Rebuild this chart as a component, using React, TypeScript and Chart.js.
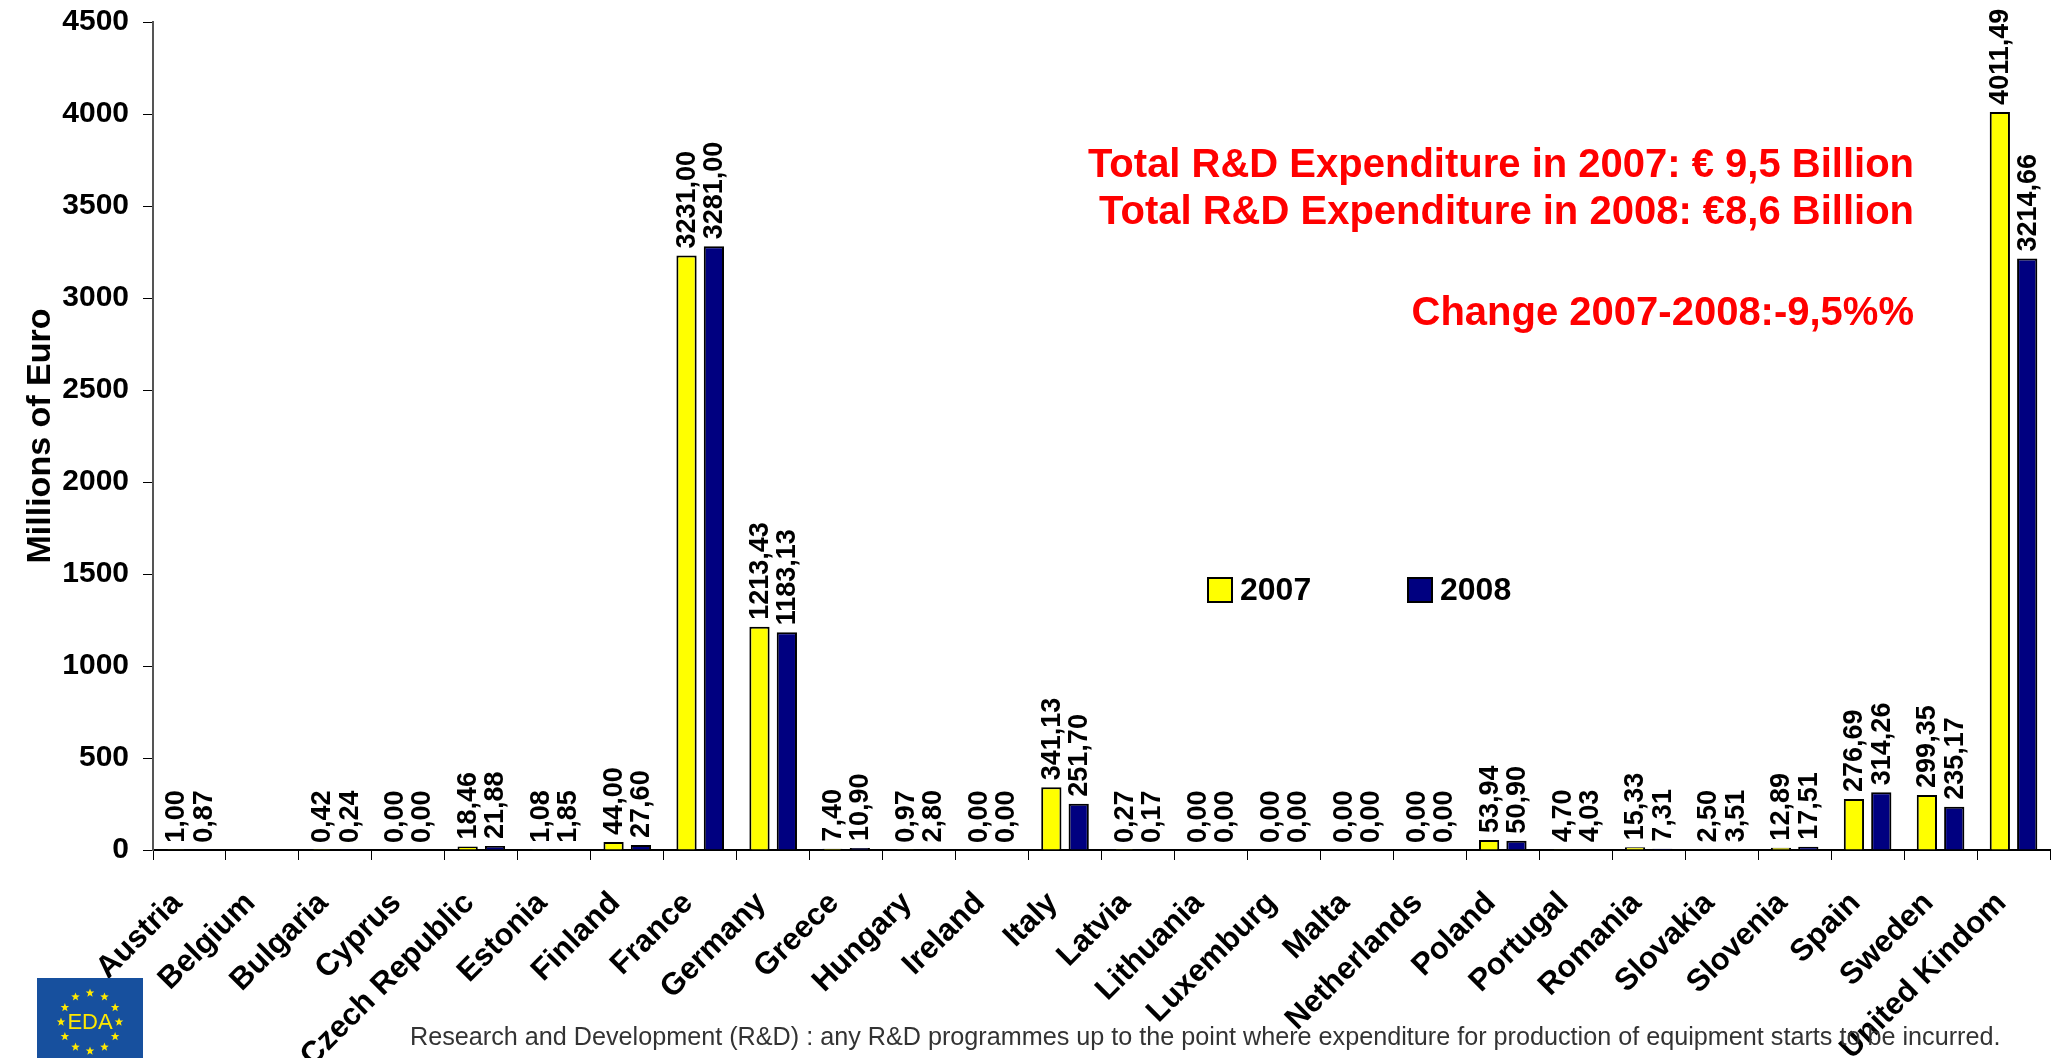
import React, { useEffect, useRef } from 'react';
import { Chart, registerables } from 'chart.js';

Chart.register(...registerables);

const categories = [
  'Austria', 'Belgium', 'Bulgaria', 'Cyprus', 'Czech Republic', 'Estonia', 'Finland', 'France',
  'Germany', 'Greece', 'Hungary', 'Ireland', 'Italy', 'Latvia', 'Lithuania', 'Luxemburg', 'Malta',
  'Netherlands', 'Poland', 'Portugal', 'Romania', 'Slovakia', 'Slovenia', 'Spain', 'Sweden', 'United Kindom',
];

const values2007: (number | null)[] = [
  1.0, null, 0.42, 0.0, 18.46, 1.08, 44.0, 3231.0, 1213.43, 7.4, 0.97, 0.0, 341.13, 0.27, 0.0, 0.0, 0.0,
  0.0, 53.94, 4.7, 15.33, 2.5, 12.89, 276.69, 299.35, 4011.49,
];

const values2008: (number | null)[] = [
  0.87, null, 0.24, 0.0, 21.88, 1.85, 27.6, 3281.0, 1183.13, 10.9, 2.8, 0.0, 251.7, 0.17, 0.0, 0.0, 0.0,
  0.0, 50.9, 4.03, 7.31, 3.51, 17.51, 314.26, 235.17, 3214.66,
];

const seriesLabels = ['2007', '2008'];
const seriesColors = ['#FFFF00', '#000080'];
const yMin = 0;
const yMax = 4500;
const yStep = 500;
const yTitle = 'Millions of Euro';

const annotationLines = [
  'Total R&D Expenditure in 2007: € 9,5 Billion',
  'Total R&D Expenditure in 2008: €8,6 Billion',
  'Change 2007-2008:-9,5%%',
];
const footnote =
  'Research and Development (R&D) : any R&D programmes up to the point where expenditure for production of equipment starts to be incurred.';
const logoText = 'EDA';

const FONT = '"Liberation Sans", Arial, Helvetica, sans-serif';

const fmt = (v: number) => v.toFixed(2).replace('.', ',');

function drawStar(ctx: CanvasRenderingContext2D, cx: number, cy: number, r: number) {
  ctx.beginPath();
  for (let i = 0; i < 10; i++) {
    const rad = i % 2 === 0 ? r : r * 0.42;
    const a = -Math.PI / 2 + (i * Math.PI) / 5;
    const x = cx + rad * Math.cos(a);
    const y = cy + rad * Math.sin(a);
    if (i === 0) ctx.moveTo(x, y);
    else ctx.lineTo(x, y);
  }
  ctx.closePath();
  ctx.fill();
}

const overlayPlugin = {
  id: 'overlay',
  afterDatasetsDraw(chart: any) {
    const ctx: CanvasRenderingContext2D = chart.ctx;
    ctx.save();
    ctx.font = `bold 27px ${FONT}`;
    ctx.fillStyle = '#000';
    chart.data.datasets.forEach((ds: any, di: number) => {
      const meta = chart.getDatasetMeta(di);
      meta.data.forEach((el: any, i: number) => {
        const v = ds.data[i];
        if (v == null) return;
        ctx.save();
        ctx.translate(el.x, el.y - 7);
        ctx.rotate(-Math.PI / 2);
        ctx.textAlign = 'left';
        ctx.textBaseline = 'middle';
        ctx.fillText(fmt(v), 0, 1);
        ctx.restore();
      });
    });
    ctx.restore();
  },
  afterDraw(chart: any) {
    const ctx: CanvasRenderingContext2D = chart.ctx;
    ctx.save();

    // legend
    const legendX = [1208, 1408];
    seriesLabels.forEach((lab, i) => {
      ctx.fillStyle = seriesColors[i];
      ctx.fillRect(legendX[i], 578, 24, 24);
      ctx.lineWidth = 2;
      ctx.strokeStyle = '#000';
      ctx.strokeRect(legendX[i], 578, 24, 24);
      ctx.fillStyle = '#000';
      ctx.font = `bold 32px ${FONT}`;
      ctx.textAlign = 'left';
      ctx.textBaseline = 'middle';
      ctx.fillText(lab, legendX[i] + 32, 591);
    });

    // red annotation
    ctx.fillStyle = '#FF0000';
    ctx.font = `bold 40px ${FONT}`;
    ctx.textAlign = 'right';
    ctx.textBaseline = 'middle';
    const ys = [166, 213, 314];
    annotationLines.forEach((t, i) => ctx.fillText(t, 1914, ys[i]));

    // footnote
    ctx.fillStyle = '#333';
    ctx.font = `25.2px ${FONT}`;
    ctx.textAlign = 'left';
    ctx.textBaseline = 'middle';
    ctx.fillText(footnote, 410, 1038);

    // logo
    ctx.fillStyle = '#17509e';
    ctx.fillRect(37, 978, 106, 80);
    ctx.fillStyle = '#FFE800';
    for (let k = 0; k < 12; k++) {
      const a = (k * Math.PI) / 6;
      drawStar(ctx, 90 + 29 * Math.cos(a), 1022 + 29 * Math.sin(a), 4.5);
    }
    ctx.font = `22px ${FONT}`;
    ctx.textAlign = 'center';
    ctx.textBaseline = 'middle';
    ctx.fillText(logoText, 90, 1023);

    ctx.restore();
  },
};

export default function App() {
  const canvasRef = useRef<HTMLCanvasElement | null>(null);

  useEffect(() => {
    if (!canvasRef.current) return;
    const chart = new Chart(canvasRef.current, {
      type: 'bar',
      data: {
        labels: categories,
        datasets: [
          {
            label: seriesLabels[0],
            data: values2007,
            backgroundColor: seriesColors[0],
            borderColor: '#000',
            borderWidth: 2,
            categoryPercentage: 0.75,
            barPercentage: 0.74,
          },
          {
            label: seriesLabels[1],
            data: values2008,
            backgroundColor: seriesColors[1],
            borderColor: '#000',
            borderWidth: 2,
            categoryPercentage: 0.75,
            barPercentage: 0.74,
          },
        ],
      },
      options: {
        animation: false,
        responsive: false,
        maintainAspectRatio: false,
        layout: { padding: { top: 22, right: 3, left: 0, bottom: 0 } },
        plugins: {
          legend: { display: false },
          tooltip: { enabled: false },
          title: { display: false },
        },
        scales: {
          x: {
            grid: { display: true, drawOnChartArea: false, drawTicks: true, tickLength: 10, tickColor: '#000', offset: true },
            border: { color: '#000', width: 2 },
            ticks: {
              autoSkip: false,
              minRotation: 45,
              maxRotation: 45,
              color: '#000',
              font: { family: FONT, size: 31, weight: 'bold' },
              padding: 25,
              labelOffset: -12,
            },
            afterFit: (scale: any) => {
              scale.height = 208;
              scale.paddingLeft = 0;
              scale.paddingRight = 0;
              scale.paddingTop = 0;
              scale.paddingBottom = 0;
            },
          },
          y: {
            min: yMin,
            max: yMax,
            grid: { display: true, drawOnChartArea: false, drawTicks: true, tickLength: 10, tickColor: '#000' },
            border: { color: '#555', width: 2 },
            ticks: {
              stepSize: yStep,
              color: '#000',
              font: { family: FONT, size: 30, weight: 'bold' },
              padding: 14,
              callback: (v: any) => String(v),
            },
            title: {
              display: true,
              text: yTitle,
              color: '#000',
              font: { family: FONT, size: 34, weight: 'bold' },
              padding: { top: 20, bottom: 0 },
            },
            afterFit: (scale: any) => {
              scale.width = 153;
              scale.paddingTop = 0;
              scale.paddingBottom = 0;
              scale.paddingLeft = 0;
              scale.paddingRight = 0;
            },
          },
        },
      },
      plugins: [overlayPlugin],
    });
    return () => chart.destroy();
  }, []);

  return (
    <div style={{ position: 'absolute', left: 0, top: 0, width: 2053, height: 1058, background: '#fff' }}>
      <canvas ref={canvasRef} width={2053} height={1058} style={{ width: 2053, height: 1058, display: 'block' }} />
    </div>
  );
}
